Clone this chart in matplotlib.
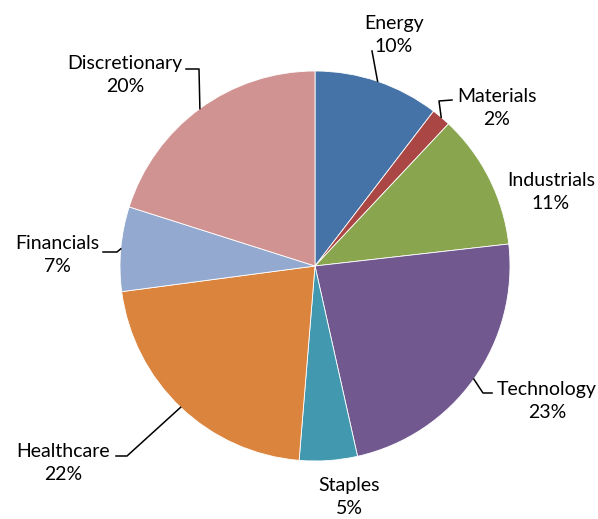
import numpy as np
import matplotlib
matplotlib.use("Agg")
import matplotlib.pyplot as plt

# sector weights, clockwise from 12 o'clock
sectors = ['Energy', 'Materials', 'Industrials', 'Technology',
           'Staples', 'Healthcare', 'Financials', 'Discretionary']
weights = [10.4, 1.6, 11.2, 23.3, 4.8, 21.6, 7.0, 20.1]
colors = ['#4572A7', '#AA4643', '#89A54E', '#71588F',
          '#4198AF', '#DB843D', '#93A9CF', '#D19392']

W, H = 598, 519
cx, cy, R = 315, 266, 195

# label block centres (pixels, y down) and leader elbow points
label_pos = [(394, 35), (497, 108), (551, 192), (547, 401),
             (349, 497), (63, 463), (57, 255), (125, 75)]
leaders = [
    [(372, 51)],
    [(439, 101), (452, 100)],
    None,
    [(483, 393), (492, 393)],
    None,
    [(127, 456), (116, 456)],
    [(117, 252), (103, 252)],
    [(199, 69), (186, 69)],
]

plt.rcParams['font.family'] = ['Lato', 'DejaVu Sans']

fig = plt.figure(figsize=(W / 100, H / 100), dpi=100)
ax = fig.add_axes([0, 0, 1, 1])

def fy(y):
    return H - y

ax.pie(weights, colors=colors, startangle=90, counterclock=False,
       center=(cx, fy(cy)), radius=R,
       wedgeprops=dict(edgecolor='white', linewidth=0.6))

total = sum(weights)
cum = np.cumsum([0] + weights)
for i, name in enumerate(sectors):
    pct = weights[i] / total * 100
    lx, ly = label_pos[i]
    ax.text(lx, fy(ly), '%s\n%d%%' % (name, round(pct)), ha='center', va='center',
            fontsize=14, linespacing=1.45, color='black')
    if leaders[i]:
        mid = np.deg2rad((cum[i] + weights[i] / 2) / total * 360)
        x0, y0 = cx + R * np.sin(mid), cy - R * np.cos(mid)
        pts = [(x0, y0)] + leaders[i]
        ax.plot([p[0] for p in pts], [fy(p[1]) for p in pts], color='black', lw=1.1)

ax.set_xlim(0, W)
ax.set_ylim(0, H)
ax.set_aspect('auto')
ax.axis('off')

fig.savefig('out.png', dpi=100)
